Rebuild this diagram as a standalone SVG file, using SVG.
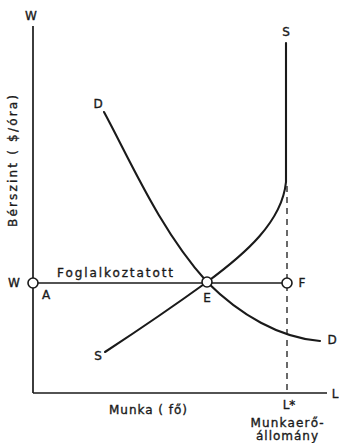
<svg xmlns="http://www.w3.org/2000/svg" width="339" height="443" viewBox="0 0 339 443">
<style>
.ax{stroke:#1a1a1a;stroke-width:1.7;fill:none}
.cv{stroke:#1a1a1a;stroke-width:2.1;fill:none;stroke-linecap:round}
.ds{stroke:#1a1a1a;stroke-width:1.3;fill:none;stroke-dasharray:6 5}
.pt{fill:#fff;stroke:#1a1a1a;stroke-width:1.6}
text{font-family:"DejaVu Sans","Liberation Sans",sans-serif;font-size:12px;fill:#1a1a1a;stroke:#1a1a1a;stroke-width:0.35}
</style>
<rect width="339" height="443" fill="#fff"/>
<g id="axes">
<line class="ax" x1="33" y1="26" x2="33" y2="393"/>
<line class="ax" x1="33" y1="393" x2="327" y2="393"/>
<text x="31" y="20" text-anchor="middle">W</text>
<text x="335" y="398" text-anchor="middle">L</text>
<text transform="translate(17,161) rotate(-90)" text-anchor="middle" textLength="132" lengthAdjust="spacing">Bérszint ( $/óra)</text>
<text x="148" y="414" text-anchor="middle" textLength="78" lengthAdjust="spacing">Munka ( fő)</text>
<text x="289" y="409" text-anchor="middle">L*</text>
<text x="287" y="427" text-anchor="middle" textLength="73" lengthAdjust="spacing">Munkaerő-</text>
<text x="287" y="440" text-anchor="middle" textLength="62" lengthAdjust="spacing">állomány</text>
</g>
<g id="connectors">
<line class="ds" x1="287" y1="186" x2="287" y2="393"/>
<line class="ax" x1="38" y1="283" x2="282" y2="283"/>
<path class="cv" d="M105,352 Q160,316 207,282 C245,254 282,222 286,182 L286,43"/>
<path class="cv" d="M104,112 C130,160 160,230 207,282 C240,315 280,338 320,341"/>
</g>
<g id="labels">
<text x="57" y="277" textLength="116" lengthAdjust="spacing">Foglalkoztatott</text>
<text x="286" y="36" text-anchor="middle">S</text>
<text x="98" y="360" text-anchor="middle">S</text>
<text x="98" y="108" text-anchor="middle">D</text>
<text x="332" y="344" text-anchor="middle">D</text>
</g>
<g id="A"><circle class="pt" cx="33" cy="283" r="5"/><text x="14" y="287" text-anchor="middle">W</text><text x="46" y="299" text-anchor="middle">A</text></g>
<g id="E"><circle class="pt" cx="207" cy="282" r="5"/><text x="207" y="302" text-anchor="middle">E</text></g>
<g id="F"><circle class="pt" cx="287" cy="283" r="5"/><text x="302" y="287" text-anchor="middle">F</text></g>
</svg>
